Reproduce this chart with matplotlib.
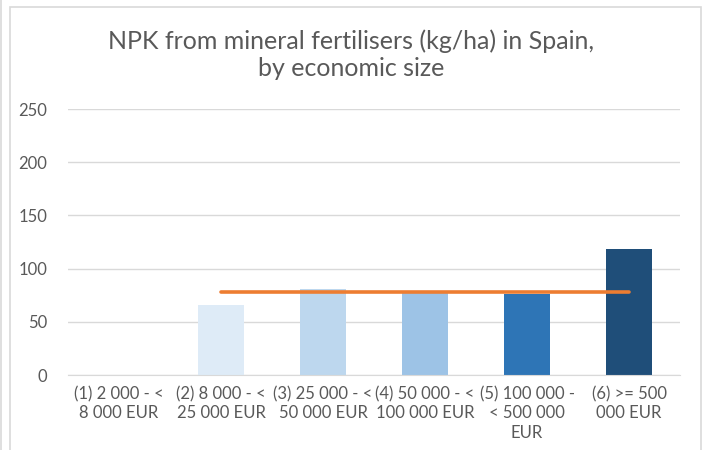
import matplotlib
matplotlib.use("Agg")
import matplotlib.pyplot as plt
from matplotlib.patches import Rectangle
from matplotlib.lines import Line2D
import numpy as np

categories = ["(1) 2 000 - <\n8 000 EUR", "(2) 8 000 - <\n25 000 EUR",
              "(3) 25 000 - <\n50 000 EUR", "(4) 50 000 - <\n100 000 EUR",
              "(5) 100 000 -\n< 500 000\nEUR", "(6) >= 500\n000 EUR"]
bar_values = [np.nan, 66, 80.5, 77, 76.5, 118.5]
line_values = [np.nan, 78, 78, 78, 78, 78]
bar_colors = ["#DEEBF7", "#DEEBF7", "#BDD7EE", "#9DC3E6", "#2E75B6", "#1F4E79"]
yticks = [0, 50, 100, 150, 200, 250]

plt.rcParams['font.family'] = ['Lato', 'DejaVu Sans']
txt = "#595959"

fig = plt.figure(figsize=(7.03, 4.5), dpi=100)
W, H = 703, 450
ax = fig.add_axes([68 / W, 1 - 375 / H, (680 - 68) / W, (375 - 109) / H])

x = np.arange(len(categories))
ax.bar(x, bar_values, width=0.46, color=bar_colors, zorder=2)
ax.plot(x, line_values, color="#ED7D31", lw=2.6, solid_capstyle="round", zorder=3)

ax.set_xlim(-0.5, len(categories) - 0.5)
ax.set_ylim(0, 250)
ax.set_yticks(yticks)
ax.set_yticklabels([str(v) for v in yticks])
ax.set_xticks(x)
ax.set_xticklabels(categories, linespacing=1.25)
ax.grid(axis="y", color="#D9D9D9", lw=1, zorder=0)
ax.set_axisbelow(True)
for s in ["top", "right", "left"]:
    ax.spines[s].set_visible(False)
ax.spines["bottom"].set_color("#D9D9D9")
ax.tick_params(axis="both", length=0, colors=txt, labelsize=12)
ax.tick_params(axis="y", pad=15)
ax.tick_params(axis="x", pad=8)

fig.text(351 / W, 1 - 55 / H, "NPK from mineral fertilisers (kg/ha) in Spain,\nby economic size",
         ha="center", va="center", fontsize=18, color=txt, linespacing=1.2)

fig.patches.append(Rectangle((9.5 / W, -0.1), (701 - 9.5) / W, 1.1 - 6.5 / H,
                             transform=fig.transFigure, fill=False,
                             edgecolor="#D9D9D9", lw=1.2))
fig.lines.append(Line2D([1 / W, 1 / W], [0, 1], transform=fig.transFigure,
                        color="#D9D9D9", lw=1.2))

fig.savefig("out.png", dpi=100)
